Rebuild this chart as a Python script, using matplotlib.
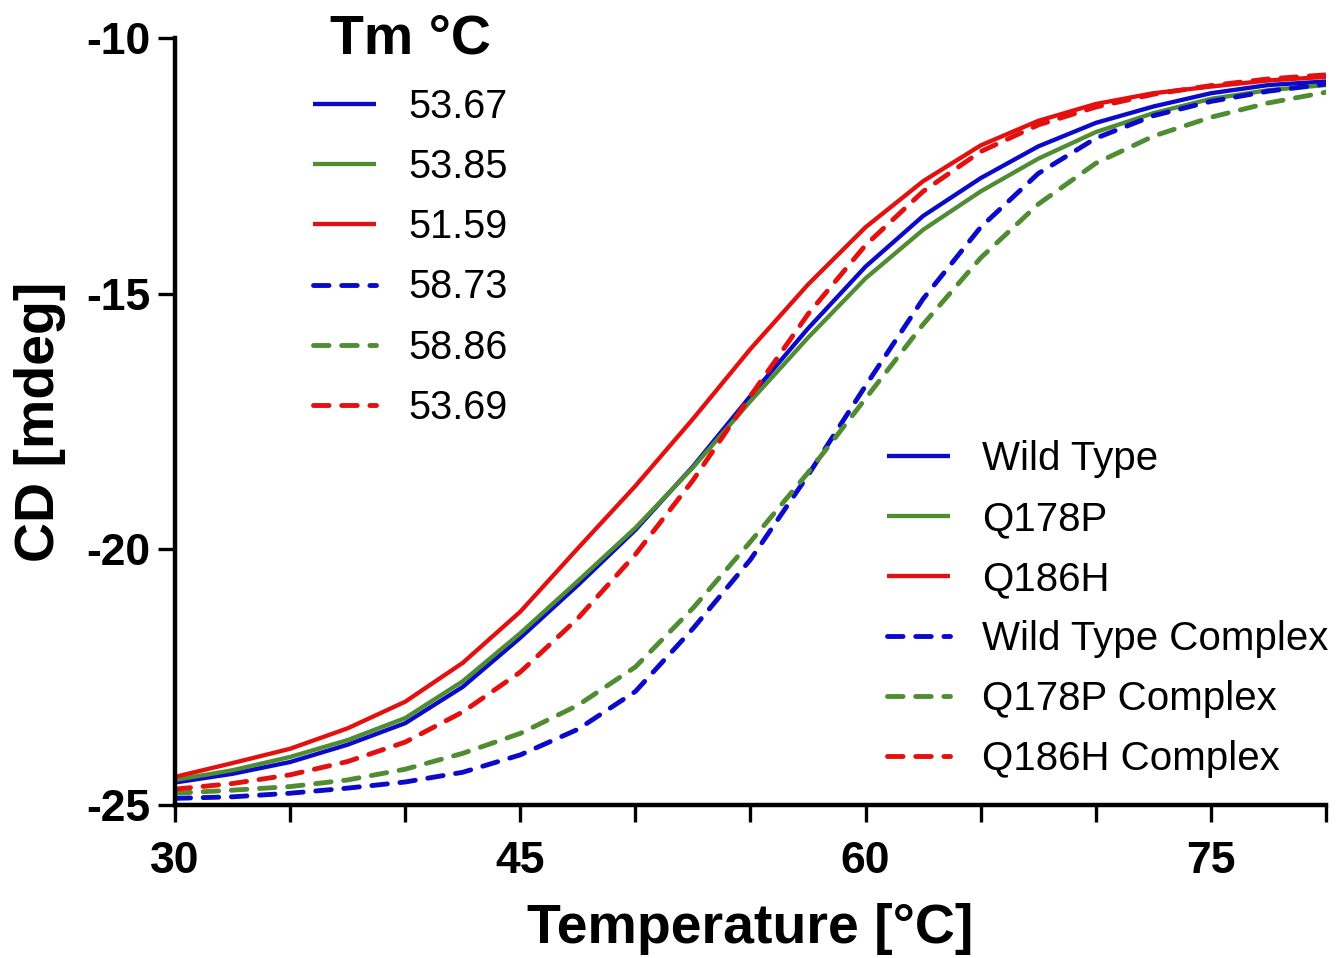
import matplotlib
matplotlib.use("Agg")
from matplotlib import pyplot as plt

# CD melting curves, values every 2.5 degC
temps = [30, 32.5, 35, 37.5, 40, 42.5, 45, 47.5, 50, 52.5, 55,
         57.5, 60, 62.5, 65, 67.5, 70, 72.5, 75, 77.5, 80]

wild_type = [-24.56, -24.39, -24.16, -23.82, -23.40, -22.69, -21.73, -20.70, -19.62, -18.38, -17.00,
             -15.68, -14.47, -13.48, -12.74, -12.12, -11.66, -11.34, -11.08, -10.92, -10.85]
q178p = [-24.51, -24.32, -24.06, -23.73, -23.30, -22.58, -21.64, -20.62, -19.58, -18.40, -17.10,
         -15.86, -14.70, -13.75, -13.00, -12.36, -11.84, -11.47, -11.19, -11.02, -10.92]
q186h = [-24.45, -24.18, -23.90, -23.50, -22.98, -22.22, -21.22, -19.98, -18.76, -17.45, -16.08,
         -14.82, -13.70, -12.80, -12.10, -11.62, -11.29, -11.08, -10.95, -10.83, -10.76]
wild_type_cx = [-24.87, -24.84, -24.77, -24.67, -24.55, -24.36, -24.02, -23.52, -22.78, -21.55, -20.20,
                -18.55, -16.80, -15.10, -13.70, -12.65, -11.96, -11.52, -11.24, -11.04, -10.90]
q178p_cx = [-24.77, -24.71, -24.64, -24.51, -24.30, -23.99, -23.60, -23.05, -22.30, -21.15, -19.85,
            -18.50, -17.05, -15.60, -14.30, -13.25, -12.45, -11.92, -11.55, -11.27, -11.06]
q186h_cx = [-24.69, -24.58, -24.41, -24.15, -23.77, -23.18, -22.40, -21.35, -20.10, -18.65, -17.00,
            -15.40, -14.05, -13.00, -12.22, -11.70, -11.35, -11.10, -10.93, -10.80, -10.72]

names = ["Wild Type", "Q178P", "Q186H", "Wild Type Complex", "Q178P Complex", "Q186H Complex"]
tm_labels = ["53.67", "53.85", "51.59", "58.73", "58.86", "53.69"]
series = [wild_type, q178p, q186h, wild_type_cx, q178p_cx, q186h_cx]

x_ticks = [30, 35, 40, 45, 50, 55, 60, 65, 70, 75, 80]
x_tick_labels = ["30", "", "", "45", "", "", "60", "", "", "75", ""]
y_ticks = [-25, -20, -15, -10]

BLUE = "#0a0ac8"
GREEN = "#4f8c32"
RED = "#e4100f"
colors = [BLUE, GREEN, RED, BLUE, GREEN, RED]

plt.rcParams["font.family"] = ["Liberation Sans", "DejaVu Sans"]

fig = plt.figure(figsize=(13.37, 9.58), dpi=100)
ax = fig.add_axes([175 / 1337, 1 - 805 / 958, 1151 / 1337, 767 / 958])

handles = []
for i, (vals, col) in enumerate(zip(series, colors)):
    if i < 3:
        (ln,) = ax.plot(temps, vals, color=col, lw=3.1, solid_capstyle="butt",
                        solid_joinstyle="round")
    else:
        (ln,) = ax.plot(temps, vals, color=col, lw=3.5, linestyle=(0, (3.2, 2.6)),
                        dash_capstyle="round", dash_joinstyle="round")
    handles.append(ln)

ax.set_xlim(30, 80)
ax.set_ylim(-25, -10)
ax.set_xticks(x_ticks)
ax.set_xticklabels(x_tick_labels)
ax.set_yticks(y_ticks)
ax.set_yticklabels(["-25", "-20", "-15", "-10"])

for side in ["top", "right"]:
    ax.spines[side].set_visible(False)
for side in ["left", "bottom"]:
    ax.spines[side].set_linewidth(3.2)

ax.tick_params(axis="both", direction="out", length=12, width=2.4, colors="black")
ax.tick_params(axis="x", pad=14)
ax.tick_params(axis="y", pad=6)
for lab in ax.get_xticklabels() + ax.get_yticklabels():
    lab.set_fontsize(32)
    lab.set_fontweight("bold")

ax.set_xlabel("Temperature [°C]", fontsize=40, fontweight="bold", labelpad=15)
ax.set_ylabel("CD [mdeg]", fontsize=40, fontweight="bold", labelpad=14)

# Tm legend (upper left) and names legend (lower right)
fig.text(410 / 1337, 1 - 40 / 958, "Tm °C", fontsize=40, fontweight="bold",
         ha="center", va="center")
leg1 = ax.legend(handles, tm_labels, loc="upper left",
                 bbox_to_anchor=(313 / 1337, 1 - 88 / 958), bbox_transform=fig.transFigure,
                 frameon=False, borderpad=0, borderaxespad=0, fontsize=28.5,
                 handlelength=1.6, handletextpad=0.8, labelspacing=0.56)
ax.add_artist(leg1)
ax.legend(handles, names, loc="upper left",
          bbox_to_anchor=(887 / 1337, 1 - 440 / 958), bbox_transform=fig.transFigure,
          frameon=False, borderpad=0, borderaxespad=0, fontsize=29,
          handlelength=1.57, handletextpad=0.79, labelspacing=0.545)

fig.savefig("out.png", dpi=100)
